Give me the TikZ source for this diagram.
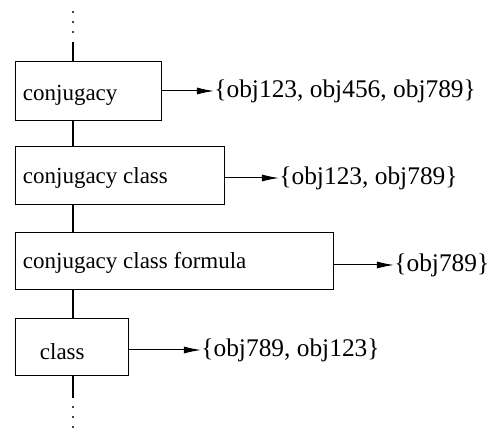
\documentclass[tikz,border=0pt]{standalone}
\usepackage{fontspec}
\setmainfont{Liberation Serif}
\usetikzlibrary{arrows.meta}
\usetikzlibrary{calc}

\begin{document}
\begin{tikzpicture}[x=0.5pt, y=-0.5pt]
	\tikzset{item/.style={
		rectangle, draw=black, line width=0.5pt, inner sep=0pt
	}}
	\tikzset{caption/.style={
		anchor=base west, inner sep=0pt, font=\fontsize{11.5}{14}\selectfont
	}}
	\tikzset{objset/.style={
		anchor=west, inner sep=0pt, font=\fontsize{12.7}{15}\selectfont
	}}
	\tikzset{conn/.style={
		line width=0.5pt, -{Latex[length=8.5pt, width=3.5pt]}
	}}
	\tikzset{link/.style={
		line width=1pt
	}}

	\useasboundingbox (0,0) rectangle (495,428);

	% conjugacy
	\node (Conj) [item, minimum width=73pt, minimum height=29.5pt] at (89,91.5) {}
		node [caption] at ([shift={(7,9)}] Conj.west) {conjugacy}
	;

	% conjugacy class
	\node (ConjClass) [item, minimum width=104.5pt, minimum height=29pt] at (120.5,176) {}
		node [caption] at ([shift={(7,7.5)}] ConjClass.west) {conjugacy class}
	;

	% conjugacy class formula
	\node (Formula) [item, minimum width=159pt, minimum height=28.5pt] at (175,261.5) {}
		node [caption] at ([shift={(7,7.5)}] Formula.west) {conjugacy class formula}
	;

	% class
	\node (Cls) [item, minimum width=56.5pt, minimum height=28.5pt] at (72.5,347.5) {}
		node [caption] at ([shift={(24,12)}] Cls.west) {class}
	;

	% object sets
	\node (SetConj) [objset] at (214,91) {\{obj123, obj456, obj789\}};
	\node (SetConjClass) [objset] at (279,178) {\{obj123, obj789\}};
	\node (SetFormula) [objset] at (394,265) {\{obj789\}};
	\node (SetCls) [objset] at (201,350) {\{obj789, obj123\}};

	% open ends
	\coordinate (TopEnd) at (73,42);
	\coordinate (BotEnd) at (73,398);

	% vertical links
	\draw[link] (TopEnd) -- (TopEnd |- Conj.north);
	\draw[link] (TopEnd |- Conj.south) -- (TopEnd |- ConjClass.north);
	\draw[link] (TopEnd |- ConjClass.south) -- (TopEnd |- Formula.north);
	\draw[link] (TopEnd |- Formula.south) -- (TopEnd |- Cls.north);
	\draw[link] (TopEnd |- Cls.south) -- (BotEnd);

	% dots
	\foreach \d in {10,20,30} {
		\fill ([yshift=\d*0.5pt] TopEnd) circle (0.55pt);
		\fill ([yshift=-\d*0.5pt+0.5pt] BotEnd) circle (0.55pt);
	}

	% items -> object sets
	\draw[conn] (Conj.east |- SetConj.west) -- (SetConj.west);
	\draw[conn] (ConjClass.east |- SetConjClass.west) -- (SetConjClass.west);
	\draw[conn] (Formula.east |- SetFormula.west) -- (SetFormula.west);
	\draw[conn] (Cls.east |- SetCls.west) -- (SetCls.west);
\end{tikzpicture}
\end{document}
